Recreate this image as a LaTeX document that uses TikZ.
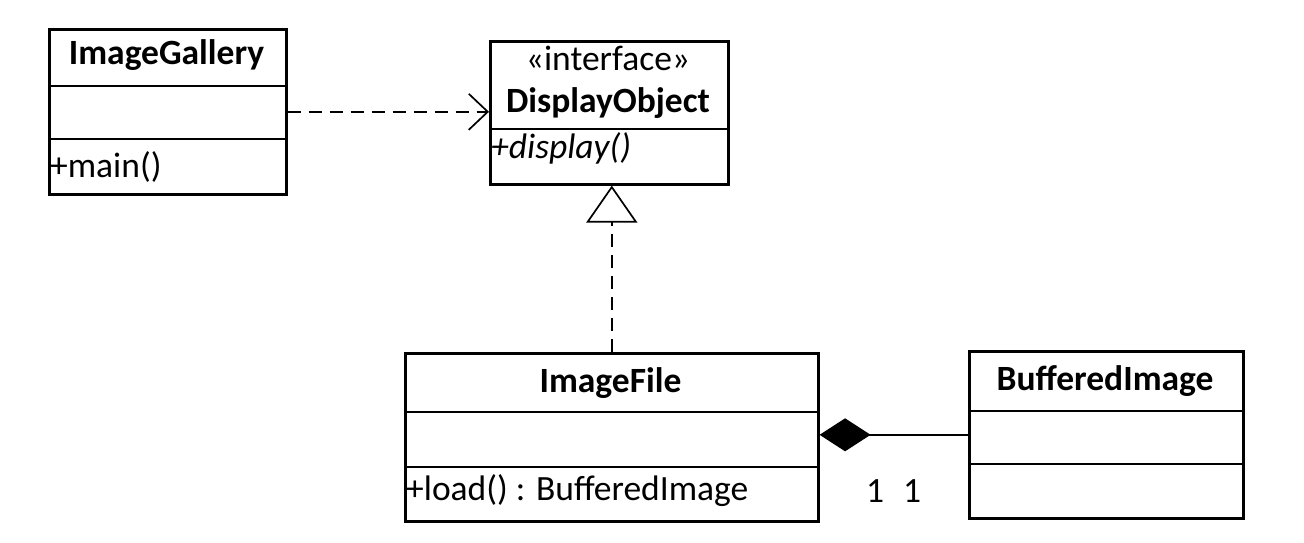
\documentclass[tikz,border=0pt]{standalone}
\usepackage{fontspec}
\setmainfont{Carlito}
\usetikzlibrary{arrows.meta}
\begin{document}
\begin{tikzpicture}[x=1pt,y=-1pt,
  boxline/.style={line width=2.6pt},
  conn/.style={line width=1.7pt},
  dsh/.style={dash pattern=on 13pt off 8pt},
  cls/.style={draw, line width=2.6pt, inner sep=0pt, anchor=north west},
  title/.style={font=\fontsize{35.5}{42}\selectfont\bfseries, inner sep=0pt, anchor=base},
  plain/.style={font=\fontsize{35.5}{42}\selectfont, inner sep=0pt, anchor=base},
  member/.style={font=\fontsize{35.5}{42}\selectfont, inner sep=0pt, anchor=base west},
]
\useasboundingbox (0,0) rectangle (1304,542);
% ImageGallery
\node[cls, minimum width=237pt, minimum height=165pt] (ig) at (48,28) {};
\draw[boxline] (48,86) -- (285,86);
\draw[boxline] (48,139) -- (285,139);
\node[title] (igt) at (166.5,64) {ImageGallery};
\node[member] (igm) at (50,177) {+main()};
% DisplayObject
\node[cls, minimum width=238pt, minimum height=143pt] (do) at (489,40) {};
\draw[boxline] (489,129) -- (727,129);
\node[plain] (dos) at (608,70) {«interface»};
\node[title] (dot) at (608,112) {DisplayObject};
\node[member, font=\fontsize{35.5}{42}\selectfont\itshape] (dom) at (491,158) {+display()};
% ImageFile
\node[cls, minimum width=413pt, minimum height=168pt] (if) at (404,352) {};
\draw[boxline] (404,412) -- (817,412);
\draw[boxline] (404,467) -- (817,467);
\node[title] (ift) at (610.5,392) {ImageFile};
\node[member] (ifm) at (406,500) {+load() : BufferedImage};
% BufferedImage
\node[cls, minimum width=274pt, minimum height=167pt] (bi) at (968,350) {};
\draw[boxline] (968,411) -- (1242,411);
\draw[boxline] (968,464) -- (1242,464);
\node[title] (bit) at (1105,390) {BufferedImage};
% connectors
\draw[conn, dsh, -{Straight Barb[length=19pt,width=36pt]}] (ig.east) -- (ig.east -| do.west);
\draw[conn, dsh, -{Triangle[open,length=37pt,width=51pt,fill=white]}] (if.north) -- (if.north |- do.south);
\draw[conn, -{Diamond[length=51pt,width=33pt]}] (bi.west) -- (bi.west -| if.east);
\node[plain] (m1) at (875,502) {1};
\node[plain] (m2) at (912,502) {1};
\end{tikzpicture}
\end{document}
